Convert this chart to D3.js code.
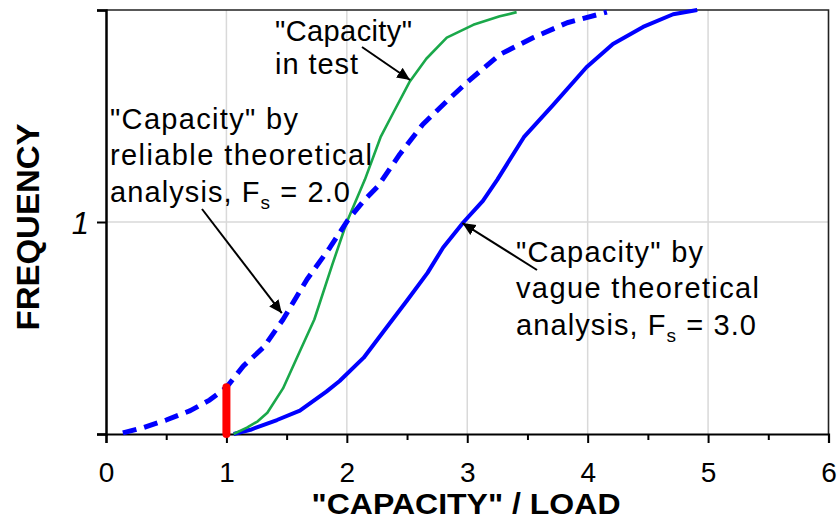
<!DOCTYPE html>
<html>
<head>
<meta charset="utf-8">
<script src="https://cdn.jsdelivr.net/npm/d3@7/dist/d3.min.js"></script>
<style>
  html, body { margin: 0; padding: 0; background: #fff; }
  svg { display: block; }
  text { font-family: "Liberation Sans", Arial, sans-serif; fill: #000; }
</style>
</head>
<body>
<svg id="chart" width="840" height="519"></svg>
<script>
// ---------- DATA ----------
const xTicks = [0, 1, 2, 3, 4, 5, 6];
const xMinorTicks = [0.5, 1.5, 2.5, 3.5, 4.5, 5.5];
const yTicks = [0, 1, 2];
const yTickLabels = ["", "1", ""];

// "Capacity" by reliable theoretical analysis, Fs = 2.0 (dashed blue)
const reliableX = [0.14, 0.31, 0.50, 0.70, 0.86, 1.00, 1.14, 1.31, 1.47, 1.67, 1.86, 2.01, 2.14, 2.26, 2.44, 2.63, 2.83, 3.00, 3.27, 3.55, 3.83, 4.16];
const reliableY = [0.005, 0.03, 0.066, 0.11, 0.16, 0.22, 0.32, 0.41, 0.54, 0.73, 0.88, 1.01, 1.10, 1.17, 1.32, 1.46, 1.57, 1.66, 1.79, 1.87, 1.94, 1.99];

// "Capacity" in test (green)
const testX = [1.06, 1.17, 1.26, 1.34, 1.47, 1.61, 1.73, 1.88, 2.00, 2.15, 2.28, 2.39, 2.52, 2.66, 2.83, 3.05, 3.27, 3.41];
const testY = [0.00, 0.03, 0.06, 0.10, 0.215, 0.39, 0.54, 0.80, 1.00, 1.20, 1.40, 1.52, 1.66, 1.77, 1.87, 1.93, 1.97, 1.99];

// "Capacity" by vague theoretical analysis, Fs = 3.0 (solid blue)
const vagueX = [1.06, 1.20, 1.42, 1.61, 1.83, 1.94, 2.14, 2.30, 2.50, 2.67, 2.80, 2.97, 3.13, 3.25, 3.47, 3.71, 3.99, 4.21, 4.46, 4.71, 4.91];
const vagueY = [0.00, 0.02, 0.066, 0.11, 0.20, 0.25, 0.36, 0.48, 0.63, 0.76, 0.88, 1.00, 1.10, 1.20, 1.40, 1.55, 1.73, 1.84, 1.92, 1.98, 2.00];

// red bar at "capacity"/load = 1
const redBarX = [1, 1];
const redBarY = [0, 0.235];

// annotation arrow tips (data coords)
const arrowTipX = [2.525, 1.46, 2.96];
const arrowTipY = [1.67, 0.57, 0.995];

// ---------- LAYOUT ----------
(function () {
const svg = d3.select("#chart");
const pL = 106, pR = 828.5, pT = 10, pB = 434;
const x = d3.scaleLinear().domain([0, 6]).range([pL, pR]);
const y = d3.scaleLinear().domain([0, 2]).range([pB, pT]);

// gridlines
svg.append("g").selectAll("line").data(xTicks.filter(d => d > 0 && d < 6)).enter()
  .append("line").attr("x1", d => x(d)).attr("x2", d => x(d)).attr("y1", pT).attr("y2", pB)
  .attr("stroke", "#d9d9d9").attr("stroke-width", 1.5);
svg.append("g").selectAll("line").data(yTicks.filter(d => d > 0 && d < 2)).enter()
  .append("line").attr("y1", d => y(d)).attr("y2", d => y(d)).attr("x1", pL).attr("x2", pR)
  .attr("stroke", "#d9d9d9").attr("stroke-width", 1.5);

// frame top/right
svg.append("path").attr("d", `M${pL},${pT}H${pR}V${pB}`)
  .attr("fill", "none").attr("stroke", "#222").attr("stroke-width", 1.6);

// x axis
const xAxis = d3.axisBottom(x).tickValues(xTicks).tickSize(9).tickFormat(d3.format("d"));
const gx = svg.append("g").attr("transform", `translate(0,${pB})`).call(xAxis);
gx.select(".domain").attr("stroke", "#000").attr("stroke-width", 2.2);
gx.selectAll(".tick line").attr("stroke", "#000").attr("stroke-width", 2);
gx.selectAll(".tick text").attr("font-size", 28).attr("dy", 0).attr("y", 48)
  .style("font-family", "'Liberation Sans', Arial, sans-serif");
const xMinor = d3.axisBottom(x).tickValues(xMinorTicks).tickSize(6).tickFormat("");
const gxm = svg.append("g").attr("transform", `translate(0,${pB})`).call(xMinor);
gxm.select(".domain").remove();
gxm.selectAll(".tick line").attr("stroke", "#000").attr("stroke-width", 2);

// y axis
const yAxis = d3.axisLeft(y).tickValues(yTicks).tickSize(9).tickFormat((d, i) => yTickLabels[i]);
const gy = svg.append("g").attr("transform", `translate(${pL},0)`).call(yAxis);
gy.select(".domain").attr("stroke", "#000").attr("stroke-width", 2.5);
gy.selectAll(".tick text").attr("font-size", 31).attr("font-style", "italic").attr("x", -17).attr("dy", "0.36em")
  .style("font-family", "'Liberation Sans', Arial, sans-serif");
gy.selectAll(".tick line").attr("stroke", "#000").attr("stroke-width", 2);

// curves
const toPts = (xs, ys) => xs.map((v, i) => [v, ys[i]]);
const line = d3.line().x(d => x(d[0])).y(d => y(d[1]));

svg.append("path").datum(toPts(vagueX, vagueY)).attr("d", line)
  .attr("fill", "none").attr("stroke", "#0000ff").attr("stroke-width", 4).attr("stroke-linejoin", "round");
svg.append("path").datum(toPts(testX, testY)).attr("d", line)
  .attr("fill", "none").attr("stroke", "#1aa84a").attr("stroke-width", 2.6).attr("stroke-linejoin", "round");
svg.append("path").datum(toPts(reliableX, reliableY)).attr("d", line)
  .attr("fill", "none").attr("stroke", "#0000ff").attr("stroke-width", 5)
  .attr("stroke-dasharray", "14,8").attr("stroke-linejoin", "round");

// red bar
svg.append("line")
  .attr("x1", x(redBarX[0])).attr("x2", x(redBarX[1]))
  .attr("y1", y(redBarY[0])).attr("y2", y(redBarY[1]) + 3)
  .attr("stroke", "#ff0000").attr("stroke-width", 8).attr("stroke-linecap", "round");

// arrows
const defs = svg.append("defs");
defs.append("marker").attr("id", "ah").attr("viewBox", "0 0 10 10").attr("refX", 10).attr("refY", 5)
  .attr("markerWidth", 6.5).attr("markerHeight", 6.5).attr("markerUnits", "strokeWidth").attr("orient", "auto")
  .append("path").attr("d", "M0,0.5L10,5L0,9.5Z").attr("fill", "#000");
const arrowStarts = [[362, 47], [202, 209], [537, 270]];
arrowStarts.forEach((s, i) => {
  svg.append("line").attr("x1", s[0]).attr("y1", s[1])
    .attr("x2", x(arrowTipX[i])).attr("y2", y(arrowTipY[i]))
    .attr("stroke", "#000").attr("stroke-width", 2).attr("marker-end", "url(#ah)");
});

// annotation text
function label(px, py, parts, len) {
  const t = svg.append("text").attr("x", px).attr("y", py).attr("font-size", 29)
    .attr("textLength", len).attr("lengthAdjust", "spacing");
  parts.forEach(p => {
    const ts = t.append("tspan").text(p.t);
    if (p.sub) ts.attr("font-size", 19).attr("dy", 7);
    if (p.back) ts.attr("dy", -7);
  });
}
label(275, 41, [{t: '"Capacity"'}], 137);
label(275, 74, [{t: 'in test'}], 83);

label(110, 129, [{t: '"Capacity" by'}], 188);
label(110, 165, [{t: 'reliable theoretical'}], 262);
label(110, 202, [{t: 'analysis, F'}, {t: 's', sub: true}, {t: ' = 2.0', back: true}], 240);

label(516, 262, [{t: '"Capacity" by'}], 187);
label(516, 298, [{t: 'vague theoretical'}], 243);
label(516, 335, [{t: 'analysis, F'}, {t: 's', sub: true}, {t: ' = 3.0', back: true}], 240);

// axis titles
svg.append("text").attr("x", 466).attr("y", 514).attr("text-anchor", "middle")
  .attr("font-size", 29).attr("font-weight", "bold")
  .attr("textLength", 309).attr("lengthAdjust", "spacingAndGlyphs")
  .text('"CAPACITY" / LOAD');
svg.append("text").attr("transform", "translate(39,227) rotate(-90)").attr("text-anchor", "middle")
  .attr("font-size", 32).attr("font-weight", "bold")
  .attr("textLength", 207).attr("lengthAdjust", "spacingAndGlyphs")
  .text("FREQUENCY");
})();
</script>
</body>
</html>
